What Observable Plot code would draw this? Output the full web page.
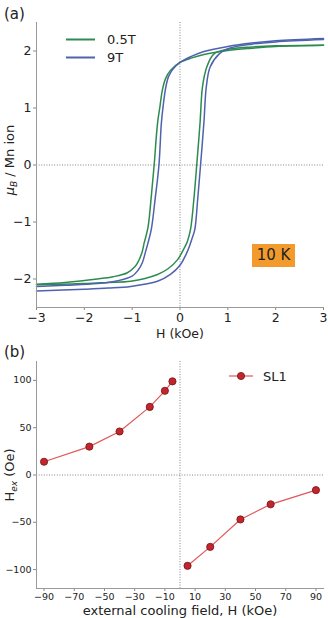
<!DOCTYPE html>
<html>
<head>
<meta charset="utf-8">
<script src="https://cdn.jsdelivr.net/npm/d3@7"></script>
<script src="https://cdn.jsdelivr.net/npm/@observablehq/plot@0.6"></script>
<style>
  body { margin: 0; background: #fff; font-family: "DejaVu Sans", sans-serif; }
  #wrap { position: relative; width: 328px; height: 618px; overflow: hidden; }
  .panel { position: absolute; left: 0; }
  .tag { position: absolute; left: 4px; font-size: 15px; color: #222; }
  .badge { position: absolute; left: 252px; top: 244px; width: 43px; height: 23px;
           background: #f39a2c; color: #222; font-size: 15px; line-height: 23px; text-align: center; }
</style>
</head>
<body>
<div id="wrap">
  <div id="pa" class="panel" style="top:0"></div>
  <div id="pb" class="panel" style="top:340px"></div>
  <div class="tag" style="top:5px">(a)</div>
  <div class="tag" style="top:343px">(b)</div>
  <div class="badge">10 K</div>
</div>
<script>
// ---- (a) hysteresis loops at 10 K, moment per Mn ion vs applied field (kOe) ----
// Each branch: [H, M] pairs in increasing H.
const loop05T_down = [
  [-3, -2.09], [-2.4, -2.06], [-1.73, -2.0], [-1.4, -1.96], [-1.1, -1.89], [-0.95, -1.79],
  [-0.89, -1.72], [-0.8, -1.55], [-0.75, -1.37], [-0.67, -1.1], [-0.6, -0.55], [-0.54, 0],
  [-0.49, 0.55], [-0.46, 0.8], [-0.42, 1.02], [-0.37, 1.31], [-0.3, 1.52], [-0.2, 1.66],
  [0, 1.8], [0.25, 1.88], [0.5, 1.94], [1, 2.01], [1.5, 2.05], [2, 2.08], [3, 2.1]
];
const loop05T_up = [
  [-3, -2.1], [-2, -2.08], [-1.5, -2.06], [-1.03, -2.04], [-0.47, -1.92], [-0.25, -1.82],
  [-0.05, -1.66], [0.08, -1.47], [0.15, -1.35], [0.22, -1.13], [0.29, -0.6], [0.35, 0],
  [0.42, 0.75], [0.47, 1.37], [0.56, 1.72], [0.71, 1.95], [1, 2.03], [1.5, 2.07], [2, 2.09], [3, 2.1]
];
const loop9T_down = [
  [-3, -2.13], [-2.4, -2.11], [-1.73, -2.08], [-1.3, -2.03], [-1.0, -1.95], [-0.88, -1.85],
  [-0.79, -1.72], [-0.72, -1.52], [-0.67, -1.37], [-0.6, -1.13], [-0.52, -0.6], [-0.44, 0],
  [-0.39, 0.73], [-0.35, 1.05], [-0.3, 1.35], [-0.24, 1.55], [-0.15, 1.68], [0, 1.8],
  [0.25, 1.91], [0.5, 1.99], [1, 2.08], [1.5, 2.14], [2, 2.18], [3, 2.22]
];
const loop9T_up = [
  [-3, -2.21], [-2, -2.18], [-1.5, -2.16], [-1.03, -2.13], [-0.47, -2.04], [-0.2, -1.92],
  [0, -1.76], [0.12, -1.58], [0.2, -1.42], [0.26, -1.27], [0.31, -1.13], [0.37, -0.6],
  [0.43, 0], [0.5, 0.75], [0.55, 1.37], [0.63, 1.72], [0.82, 1.95], [1, 2.04], [1.5, 2.12],
  [2, 2.16], [3, 2.2]
];
const loopSeries = ["0.5T", "9T"];
const loopColors = ["#2e8b50", "#4f62ad"];
const hTicks = [-3, -2, -1, 0, 1, 2, 3];
const mTicks = [-2, -1, 0, 1, 2];

// ---- (b) exchange-bias field vs external cooling field ----
const coolNeg = [-90, -60, -40, -20, -10, -5];
const hexNeg  = [14, 30, 46, 72, 89, 99];
const coolPos = [5, 20, 40, 60, 90];
const hexPos  = [-96, -76, -47, -31, -16];
const coolTicks = [-90, -70, -50, -30, -10, 10, 30, 50, 70, 90];
const hexTicks = [-100, -50, 0, 50, 100];
const sampleName = "SL1";

const font = "'DejaVu Sans', sans-serif";
const intFmt = d3.format("d");

// rows for the loop plot
const loopRows = [];
[[loop05T_down, 0, "d"], [loop05T_up, 0, "u"], [loop9T_down, 1, "d"], [loop9T_up, 1, "u"]]
  .forEach(([arr, s, b]) => arr.forEach(([H, M]) => loopRows.push({H, M, series: loopSeries[s], branch: loopSeries[s] + b})));

const dotted = {stroke: "#666", strokeWidth: 0.8, strokeDasharray: "1,1.6"};

const plotA = Plot.plot({
  width: 328, height: 340,
  marginLeft: 36, marginRight: 5, marginTop: 22, marginBottom: 33,
  style: {fontFamily: font, color: "#222", background: "transparent", overflow: "visible"},
  x: {domain: [-3, 3]},
  y: {domain: [-2.5, 2.5]},
  color: {domain: loopSeries, range: loopColors},
  marks: [
    Plot.ruleY([0], dotted),
    Plot.ruleX([0], dotted),
    Plot.line(loopRows, {x: "H", y: "M", z: "branch", stroke: "series", strokeWidth: 1.5, curve: "catmull-rom"}),
    Plot.axisX({ticks: hTicks, tickFormat: intFmt, tickSize: 3, tickPadding: 3, fontSize: 12.5, label: null, stroke: "#888"}),
    Plot.axisY({ticks: mTicks, tickFormat: intFmt, tickSize: 3, tickPadding: 2, fontSize: 12.5, label: null, stroke: "#888"}),
    Plot.frame({anchor: "left", stroke: "#999"}),
    Plot.frame({anchor: "bottom", stroke: "#999"}),
    Plot.text(["H (kOe)"], {frameAnchor: "bottom", lineAnchor: "middle", dy: 26, fontSize: 12.5, fill: "#222"})
  ]
});
document.getElementById("pa").appendChild(plotA);

// y label with math-style μ_B, and legend
{
  const svg = d3.select(plotA);
  const t = svg.append("text")
    .attr("transform", "translate(14,160) rotate(-90)")
    .attr("text-anchor", "middle")
    .attr("font-size", 13).attr("fill", "#222").attr("font-family", font);
  t.append("tspan").attr("font-style", "italic").text("μ");
  t.append("tspan").attr("font-style", "italic").attr("font-size", 9).attr("dy", 3).text("B");
  t.append("tspan").attr("dy", -3).text(" / Mn ion");

  const lg = svg.append("g").attr("font-family", font).attr("font-size", 13)
    .attr("fill", "#222").attr("text-anchor", "start");
  loopSeries.forEach((name, i) => {
    const y = 39.5 + i * 18;
    lg.append("line").attr("x1", 66).attr("x2", 95).attr("y1", y).attr("y2", y)
      .attr("stroke", loopColors[i]).attr("stroke-width", 2);
    lg.append("text").attr("x", 107).attr("y", y + 4.5).attr("text-anchor", "start").text(name);
  });
}

const segs = [
  ...coolNeg.map((c, i) => ({c, h: hexNeg[i], side: "neg"})),
  ...coolPos.map((c, i) => ({c, h: hexPos[i], side: "pos"}))
];

const plotB = Plot.plot({
  width: 328, height: 278,
  marginLeft: 36, marginRight: 5, marginTop: 21, marginBottom: 30,
  style: {fontFamily: font, color: "#222", background: "transparent", overflow: "visible"},
  x: {domain: [-95, 95]},
  y: {domain: [-120, 120]},
  marks: [
    Plot.ruleY([0], dotted),
    Plot.ruleX([0], dotted),
    Plot.line(segs, {x: "c", y: "h", z: "side", stroke: "#e0575a", strokeWidth: 1.2}),
    Plot.dot(segs, {x: "c", y: "h", r: 3.6, fill: "#c4252c", stroke: "#6e1416", strokeWidth: 0.8}),
    Plot.axisX({ticks: coolTicks, tickFormat: intFmt, tickSize: 3, tickPadding: 2, fontSize: 9.5, label: null, stroke: "#888"}),
    Plot.axisY({ticks: hexTicks, tickFormat: intFmt, tickSize: 3, tickPadding: 2, fontSize: 9.5, label: null, stroke: "#888"}),
    Plot.frame({anchor: "left", stroke: "#999"}),
    Plot.frame({anchor: "bottom", stroke: "#999"}),
    Plot.text(["external cooling field, H (kOe)"], {frameAnchor: "bottom", lineAnchor: "middle", dy: 22, fontSize: 13, fill: "#222"})
  ]
});
document.getElementById("pb").appendChild(plotB);

{
  const svg = d3.select(plotB);
  const t = svg.append("text")
    .attr("transform", "translate(14,135) rotate(-90)")
    .attr("text-anchor", "middle")
    .attr("font-size", 13).attr("fill", "#222").attr("font-family", font);
  t.append("tspan").text("H");
  t.append("tspan").attr("font-style", "italic").attr("font-size", 9).attr("dy", 3).text("ex");
  t.append("tspan").attr("dy", -3).text(" (Oe)");

  const lg = svg.append("g").attr("font-family", font).attr("font-size", 13)
    .attr("fill", "#222").attr("text-anchor", "start");
  const y = 36;
  lg.append("line").attr("x1", 229).attr("x2", 253).attr("y1", y).attr("y2", y)
    .attr("stroke", "#e0575a").attr("stroke-width", 1.2);
  lg.append("circle").attr("cx", 241).attr("cy", y).attr("r", 3.6)
    .attr("fill", "#c4252c").attr("stroke", "#6e1416").attr("stroke-width", 0.8);
  lg.append("text").attr("x", 263).attr("y", y + 4.5).attr("text-anchor", "start").text(sampleName);
}
</script>
</body>
</html>
